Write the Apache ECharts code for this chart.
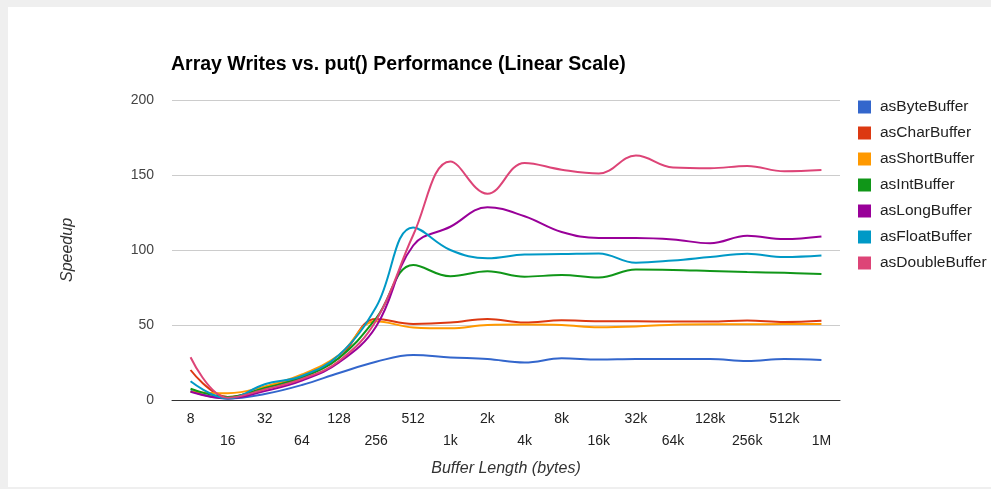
<!DOCTYPE html>
<html>
<head>
<meta charset="utf-8">
<title>Array Writes vs. put() Performance</title>
<script src="https://cdn.jsdelivr.net/npm/echarts@6/dist/echarts.min.js"></script>
<style type="text/css">
    html, body { margin: 0; padding: 0; background: #efefef; }
    #paper { position: absolute; left: 8px; top: 7px; width: 983px; height: 480px; background: #fff; }
    #main { position: absolute; left: 0; top: 0; width: 991px; height: 489px; }
</style>
</head>
<body>
<div id="paper"></div>
<div id="main"></div>
<script>
    // buffer sizes (bytes)
    var sizes = ['8', '16', '32', '64', '128', '256', '512', '1k', '2k', '4k', '8k', '16k', '32k', '64k', '128k', '256k', '512k', '1M'];
    var yTicks = [0, 50, 100, 150, 200];

    var byteBuffer   = [6, 1, 4, 10, 18, 25.5, 30, 28.4, 27.3, 25, 27.8, 27, 27.3, 27.3, 27.3, 26, 27.3, 26.7];
    var charBuffer   = [20, 2, 8, 16, 28, 54, 50.7, 51.6, 54, 51.6, 53.1, 52.5, 52.5, 52.3, 52.3, 53, 52, 52.8];
    var shortBuffer  = [5.5, 4.5, 9, 17, 30, 52.5, 48.4, 47.8, 50, 50.3, 50, 48.5, 49, 50.2, 50.5, 50.5, 50.6, 50.6];
    var intBuffer    = [7.5, 2, 8, 15, 28, 54.5, 90, 82.5, 85.8, 82.2, 83.3, 81.6, 87, 86.7, 86, 85.3, 84.8, 84];
    var longBuffer   = [5.5, 1, 6, 13, 25, 49, 103, 115.5, 128.5, 122.5, 112, 108, 108, 107, 104.5, 109.5, 107.3, 109];
    var floatBuffer  = [12.5, 1, 10.5, 16, 30, 62, 115, 100, 94.5, 97, 97.3, 97.7, 91.5, 93, 95.3, 97.5, 95.3, 96.3];
    var doubleBuffer = [28.5, 1.5, 7, 14, 26, 53, 110, 159, 137.5, 158, 153.5, 151, 163, 155, 154.5, 156, 152.5, 153.3];

    var names  = ['asByteBuffer', 'asCharBuffer', 'asShortBuffer', 'asIntBuffer', 'asLongBuffer', 'asFloatBuffer', 'asDoubleBuffer'];
    var values = [byteBuffer, charBuffer, shortBuffer, intBuffer, longBuffer, floatBuffer, doubleBuffer];
    var colors = ['#3366cc', '#dc3912', '#ff9900', '#109618', '#990099', '#0099c6', '#dd4477'];

    var font = 'Arial, "Liberation Sans", sans-serif';

    var series = [];
    for (var i = 0; i < names.length; i++) {
        series.push({
            name: names[i],
            type: 'line',
            smooth: 0.4,
            symbol: 'none',
            lineStyle: { width: 2, color: colors[i] },
            itemStyle: { color: colors[i] },
            data: values[i]
        });
    }

    var myChart = echarts.init(document.getElementById('main'));
    var option = {
        backgroundColor: 'transparent',
        animation: false,
        title: {
            text: 'Array Writes vs. put() Performance (Linear Scale)',
            left: 171,
            top: 55,
            padding: 0,
            textStyle: { fontFamily: font, fontSize: 19.5, fontWeight: 'bold', color: '#000' }
        },
        legend: {
            orient: 'vertical',
            left: 858,
            top: 99,
            padding: 0,
            itemWidth: 13,
            itemHeight: 13,
            itemGap: 10,
            icon: 'rect',
            textStyle: { fontFamily: font, fontSize: 15.5, color: '#222', padding: [0, 0, 0, 4] },
            data: names
        },
        grid: { left: 172, right: 151, top: 100, bottom: 89 },
        xAxis: {
            type: 'category',
            data: sizes,
            boundaryGap: true,
            name: 'Buffer Length (bytes)',
            nameLocation: 'middle',
            nameGap: 61,
            nameTextStyle: { fontFamily: font, fontSize: 16, fontStyle: 'italic', color: '#333' },
            axisLine: { lineStyle: { color: '#333', width: 1 } },
            axisTick: { show: false },
            axisLabel: {
                interval: 0,
                margin: 8,
                fontFamily: font,
                fontSize: 14,
                lineHeight: 22,
                color: '#222',
                formatter: function (v, idx) { return idx % 2 ? '\n' + v : v; }
            }
        },
        yAxis: {
            type: 'value',
            min: yTicks[0],
            max: yTicks[yTicks.length - 1],
            interval: 50,
            name: 'Speedup',
            nameLocation: 'middle',
            nameGap: 96,
            nameTextStyle: { fontFamily: font, fontSize: 16, fontStyle: 'italic', color: '#333' },
            axisLine: { show: false },
            axisTick: { show: false },
            axisLabel: { margin: 18, fontFamily: font, fontSize: 14, color: '#444' },
            splitLine: { lineStyle: { color: '#cccccc', width: 1 } }
        },
        series: series
    };
    myChart.setOption(option);
</script>
</body>
</html>
